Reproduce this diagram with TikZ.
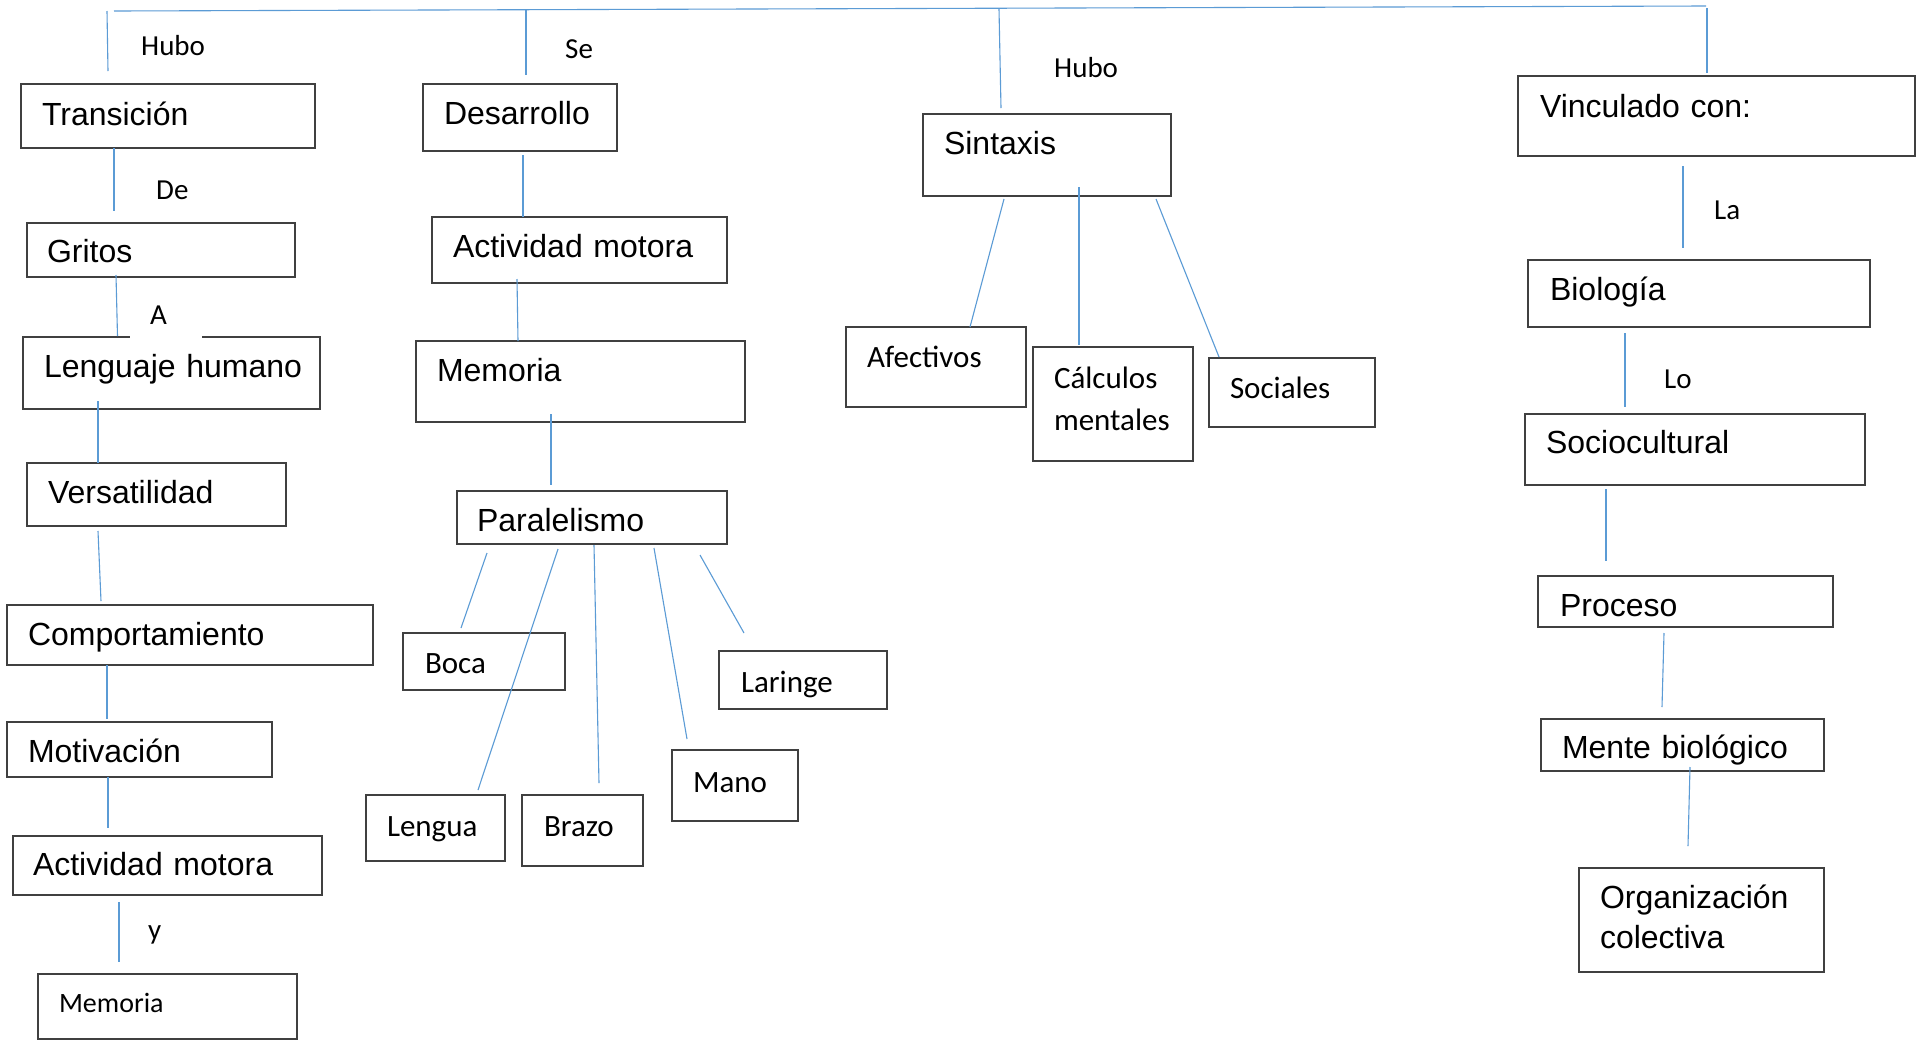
\documentclass[tikz,border=0pt]{standalone}
\usepackage{fontspec}
\usetikzlibrary{calc}
\newfontfamily\arialf{Liberation Sans}
\newfontfamily\calf{Carlito}
\definecolor{linkblue}{HTML}{5B9BD5}
\definecolor{boxline}{HTML}{404040}

\begin{document}
\begin{tikzpicture}[x=1pt, y=-1pt,
    link/.style = {draw=linkblue, line width=1.1pt},
    cbox/.style n args = {4}{draw=boxline, line width=1.4pt,
                    anchor=north west, align=left,
                    outer sep=0pt, inner ysep=0pt, inner xsep=#1,
                    text width=#2, text height=#3, text depth=#4},
    arialt/.style = {font=\arialf\fontsize{32}{40}\selectfont},
    calt/.style = {font=\calf\fontsize{31}{42}\selectfont},
    word/.style = {font=\calf\fontsize{29}{34}\selectfont,
                    anchor=base west, inner sep=0pt}
                            ]
    \path[use as bounding box, fill=white] (0,0) rectangle (1917,1045);

    % top bar
    \coordinate (barL) at (114,11);
    \coordinate (barR) at (1706,6);
    \coordinate (drop1) at (107,11);
    \coordinate (drop2) at (526,10);
    \coordinate (drop3) at (999,9);
    \coordinate (drop4) at (1707,8);

    % left column
    \node (trans) [cbox={21pt}{252pt}{41pt}{23pt}, arialt] at (21,84) {Transición};
    \node (grit)  [cbox={20pt}{228pt}{39pt}{15pt}, arialt] at (27,223) {Gritos};
    \node (lengh) [cbox={21pt}{255pt}{40pt}{32pt}, arialt] at (23,337) {\mbox{Lenguaje humano}};
    \node (vers)  [cbox={21pt}{217pt}{40pt}{23pt}, arialt] at (27,463) {Versatilidad};
    \node (comp)  [cbox={21pt}{324pt}{40pt}{20pt}, arialt] at (7,605) {Comportamiento};
    \node (motiv) [cbox={21pt}{223pt}{40pt}{15pt}, arialt] at (7,722) {Motivación};
    \node (actL)  [cbox={20pt}{269pt}{39pt}{20pt}, arialt] at (13,836) {Actividad motora};
    \node (memL)  [cbox={21pt}{217pt}{38pt}{27pt},
                   font=\calf\fontsize{28}{34}\selectfont] at (38,974) {Memoria};

    % second column
    \node (desa)  [cbox={21pt}{152pt}{40pt}{27pt}, arialt] at (423,84) {Desarrollo};
    \node (actM)  [cbox={21pt}{253pt}{40pt}{26pt}, arialt] at (432,217) {Actividad motora};
    \node (memM)  [cbox={21pt}{287pt}{40pt}{41pt}, arialt] at (416,341) {Memoria};
    \node (para)  [cbox={20pt}{230pt}{40pt}{13pt}, arialt] at (457,491) {Paralelismo};
    \node (boca)  [cbox={22pt}{118pt}{40pt}{17pt}, calt] at (403,633) {Boca};
    \node (lari)  [cbox={22pt}{124pt}{41pt}{17pt}, calt] at (719,651) {Laringe};
    \node (mano)  [cbox={21pt}{84pt}{42pt}{29pt}, calt] at (672,750) {Mano};
    \node (leng)  [cbox={21pt}{97pt}{41pt}{25pt}, calt] at (366,795) {Lengua};
    \node (brazo) [cbox={22pt}{77pt}{41pt}{30pt}, calt] at (522,795) {Brazo};

    % third column
    \node (sint)  [cbox={21pt}{206pt}{40pt}{42pt}, arialt] at (923,114) {Sintaxis};
    \node (afec)  [cbox={21pt}{138pt}{40pt}{40pt}, calt] at (846,327) {Afectivos};
    \node (calc)  [cbox={21pt}{118pt}{41pt}{73pt}, calt] at (1033,347) {Cálculos\\mentales};
    \node (soci)  [cbox={21pt}{124pt}{40pt}{29pt}, calt] at (1209,358) {Sociales};

    % right column
    \node (vinc)  [cbox={22pt}{353pt}{41pt}{39pt}, arialt] at (1518,76) {Vinculado con:};
    \node (biol)  [cbox={22pt}{298pt}{40pt}{27pt}, arialt] at (1528,260) {Biología};
    \node (socio) [cbox={21pt}{298pt}{39pt}{32pt}, arialt] at (1525,414) {Sociocultural};
    \node (proc)  [cbox={22pt}{251pt}{40pt}{11pt}, arialt] at (1538,576) {Proceso};
    \node (mente) [cbox={21pt}{241pt}{39pt}{13pt}, arialt] at (1541,719) {Mente biológico};
    \node (orga)  [cbox={21pt}{203pt}{40pt}{64pt}, arialt] at (1579,868) {Organización\\colectiva};

    % connectors
    \draw[link] (barL) -- (barR);
    \draw[link] (drop1) -- ($(trans.north)+(-60,-13)$);
    \draw[link] (drop2) -- ($(desa.north)+(6,-9)$);
    \draw[link] (drop3) -- ($(sint.north)+(-46,-6)$);
    \draw[link] (drop4) -- ($(vinc.north)+(-9.5,-3)$);

    \draw[link] ($(trans.south)+(-54,0)$) -- ($(grit.north)+(-47,-12)$);
    \draw[link] ($(grit.south)+(-45,-2)$) -- ($(lengh.north)+(-54,-1)$);
    \draw[link] ($(lengh.south)+(-73.5,-8)$) -- ($(vers.north)+(-58.5,0)$);
    \draw[link] ($(vers.south)+(-58.5,5)$) -- ($(comp.north)+(-89,-4)$);
    \draw[link] ($(comp.south)+(-83,0)$) -- ($(motiv.north)+(-32.5,-3)$);
    \draw[link] ($(motiv.south)+(-31.5,0)$) -- ($(actL.north)+(-59.5,-8)$);
    \draw[link] ($(actL.south)+(-48.5,7)$) -- ($(memL.north)+(-48.5,-12)$);

    \draw[link] ($(desa.south)+(3,4)$) -- ($(actM.north)+(-56.5,0)$);
    \draw[link] ($(actM.south)+(-62.5,-4)$) -- ($(memM.north)+(-62.5,0)$);
    \draw[link] ($(memM.south)+(-29.5,-8)$) -- ($(para.north)+(-41,-6)$);
    \draw[link] ($(para.south)+(-105,9)$) -- ($(boca.north)+(-23,-5)$);
    \draw[link] ($(para.south)+(-34,5)$) -- ($(leng.north)+(42.5,-5)$);
    \draw[link] ($(para.south)+(2,1)$) -- ($(brazo.north)+(16.5,-12)$);
    \draw[link] ($(para.south)+(62,4)$) -- ($(mano.north)+(-48,-11)$);
    \draw[link] ($(para.south)+(108,11)$) -- ($(lari.north)+(-59,-18)$);

    \draw[link] ($(sint.south)+(-43,3)$) -- ($(afec.north)+(34,0)$);
    \draw[link] ($(sint.south)+(32,-9)$) -- ($(calc.north)+(-34,-2)$);
    \draw[link] ($(sint.south)+(109,3)$) -- ($(soci.north)+(-73,-1)$);

    \draw[link] ($(vinc.south)+(-33.5,10)$) -- ($(biol.north)+(-16,-12)$);
    \draw[link] ($(biol.south)+(-74,6)$) -- ($(socio.north)+(-70,-7)$);
    \draw[link] ($(socio.south)+(-89,4)$) -- ($(proc.north)+(-79.5,-15)$);
    \draw[link] ($(proc.south)+(-21.5,6)$) -- ($(mente.north)+(-20.5,-12)$);
    \draw[link] ($(mente.south)+(7.5,-4)$) -- ($(orga.north)+(-13.5,-22)$);

    % linking words
    \node (wHubo) [word] at (141,55) {Hubo};
    \node (wDe)   [word] at (156,199) {De};
    \node (wA)    [word, fill=white, inner xsep=20pt, text width=32pt,
                   align=left, text depth=16pt] at (130,324) {A};
    \node (wSe)   [word] at (565,58) {Se};
    \node (wHubo2)[word] at (1054,77) {Hubo};
    \node (wLa)   [word] at (1714,219) {La};
    \node (wLo)   [word] at (1664,388) {Lo};
    \node (wY)    [word] at (148,939) {y};
\end{tikzpicture}
\end{document}
